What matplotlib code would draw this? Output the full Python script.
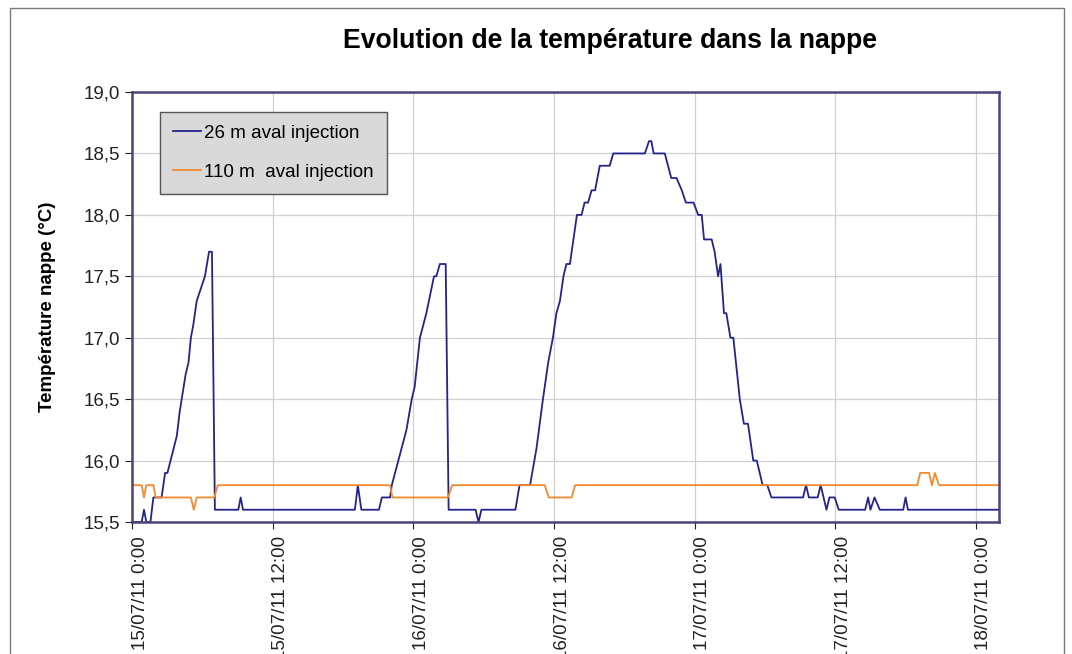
import numpy as np
import pandas as pd
import matplotlib
matplotlib.use("Agg")
import matplotlib.pyplot as plt
import matplotlib.dates as mdates
import matplotlib.transforms as mtransforms
from matplotlib.patches import Rectangle
from matplotlib.ticker import FuncFormatter, MultipleLocator

plt.rcParams['font.family'] = ['Liberation Sans', 'DejaVu Sans']

start = pd.Timestamp("2011-07-15 00:00")

# 26 m aval injection : (heures depuis le debut, temperature)
h26 = [0.0, 0.8, 1.0, 1.2, 1.55, 1.8, 2.5, 2.8, 3.0, 3.8, 4.05, 4.55, 4.8, 5.0, 5.2, 5.5,
       6.2, 6.55, 6.8, 7.05, 9.05, 9.25, 9.45, 19.0, 19.25, 19.55, 21.05, 21.3, 22.0, 22.15,
       23.4, 23.85, 24.1, 24.55, 25.1, 25.75, 25.95, 26.25, 26.75, 27.0, 29.3, 29.55, 29.8,
       32.7, 33.05, 33.95, 34.5, 35.05, 35.5, 35.9, 36.2, 36.5, 36.8, 37.05, 37.35, 37.65,
       37.95, 38.35, 38.6, 38.9, 39.2, 39.5, 39.9, 40.75, 41.05, 43.75, 44.1, 44.3, 44.5,
       45.45, 46.0, 46.45, 46.9, 47.25, 47.9, 48.3, 48.6, 48.8, 49.45, 49.7, 50.0, 50.2,
       50.5, 50.7, 51.05, 51.3, 51.85, 52.2, 52.55, 53.0, 53.3, 53.8, 54.2, 54.55, 57.25,
       57.5, 57.75, 58.5, 58.75, 59.25, 59.5, 59.95, 60.3, 62.55, 62.8, 63.0, 63.35, 63.8,
       65.8, 66.0, 66.2, 74.0]
t26 = [15.5, 15.5, 15.6, 15.5, 15.5, 15.7, 15.7, 15.9, 15.9, 16.2, 16.4, 16.7, 16.8, 17.0, 17.1, 17.3,
       17.5, 17.7, 17.7, 15.6, 15.6, 15.7, 15.6, 15.6, 15.8, 15.6, 15.6, 15.7, 15.7, 15.8,
       16.25, 16.5, 16.6, 17.0, 17.2, 17.5, 17.5, 17.6, 17.6, 15.6, 15.6, 15.5, 15.6,
       15.6, 15.8, 15.8, 16.1, 16.5, 16.8, 17.0, 17.2, 17.3, 17.5, 17.6, 17.6, 17.8,
       18.0, 18.0, 18.1, 18.1, 18.2, 18.2, 18.4, 18.4, 18.5, 18.5, 18.6, 18.6, 18.5,
       18.5, 18.3, 18.3, 18.2, 18.1, 18.1, 18.0, 18.0, 17.8, 17.8, 17.7, 17.5, 17.6,
       17.2, 17.2, 17.0, 17.0, 16.5, 16.3, 16.3, 16.0, 16.0, 15.8, 15.8, 15.7, 15.7,
       15.8, 15.7, 15.7, 15.8, 15.6, 15.7, 15.7, 15.6, 15.6, 15.7, 15.6, 15.7, 15.6,
       15.6, 15.7, 15.6, 15.6]

# 110 m aval injection
h110 = [0.0, 0.8, 1.0, 1.2, 1.8, 2.0, 5.0, 5.25, 5.5, 7.0, 7.3, 22.0, 22.2, 26.95, 27.3,
        35.2, 35.55, 37.5, 37.8, 67.0, 67.25, 68.0, 68.25, 68.5, 68.85, 74.0]
t110 = [15.8, 15.8, 15.7, 15.8, 15.8, 15.7, 15.7, 15.6, 15.7, 15.7, 15.8, 15.8, 15.7, 15.7, 15.8,
        15.8, 15.7, 15.7, 15.8, 15.8, 15.9, 15.9, 15.8, 15.9, 15.8, 15.8]

labels = ["26 m aval injection", "110 m  aval injection"]

x26 = start + pd.to_timedelta(h26, unit="h")
x110 = start + pd.to_timedelta(h110, unit="h")

fig = plt.figure(figsize=(10.72, 6.54), dpi=100)
ax = fig.add_axes([0.1234, 0.2018, 0.8088, 0.6575])

ax.plot(x26, t26, color="#24248C", lw=1.3, label=labels[0])
ax.plot(x110, t110, color="#F28A2E", lw=1.3, label=labels[1])

ax.set_ylim(15.5, 19.0)
ax.set_xlim(start, start + pd.Timedelta(hours=74))
ax.yaxis.set_major_locator(MultipleLocator(0.5))
ax.yaxis.set_major_formatter(FuncFormatter(lambda v, p: f"{v:.1f}".replace(".", ",")))

ax.xaxis.set_major_locator(mdates.HourLocator(byhour=[0, 12]))
def fmt_date(v, p):
    d = mdates.num2date(v)
    return f"{d:%d/%m/%y} {d.hour}:{d:%M}"
ax.xaxis.set_major_formatter(FuncFormatter(fmt_date))

ax.grid(True, color="#D0D0D0", lw=0.9)
ax.set_axisbelow(True)
for s in ax.spines.values():
    s.set_color("#4E4278")
    s.set_linewidth(1.8)
ax.tick_params(axis="both", labelsize=13.5, colors="#222222", length=5, width=0.8, direction="out")
ax.tick_params(axis="x", pad=5)
ax.tick_params(axis="y", pad=4)

# decaler les etiquettes de dates un peu a droite, comme dans Excel
shift = mtransforms.ScaledTranslation(8 / 100, 0, fig.dpi_scale_trans)
for lab in ax.get_xticklabels():
    lab.set_rotation(90)
    lab.set_ha("center")
    lab.set_va("top")
    lab.set_transform(lab.get_transform() + shift)

ax.set_ylabel("Température nappe (°C)", fontsize=13.5, fontweight="bold", labelpad=20)
fig.text(0.569, 0.938, "Evolution de la température dans la nappe", fontsize=19.2,
         fontweight="bold", ha="center", va="center")

leg = ax.legend(loc="upper left", bbox_to_anchor=(0.032, 0.954), borderaxespad=0,
                fontsize=13.5, frameon=True, fancybox=False, facecolor="#D9D9D9",
                edgecolor="#555555", framealpha=1, handlelength=1.5, handletextpad=0.15,
                labelspacing=1.15, borderpad=0.7)
leg.get_frame().set_linewidth(1.0)

# cadre du graphique
fig.add_artist(Rectangle((10 / 1072, -0.05), 1054 / 1072, 1.05 - 8 / 654,
                         transform=fig.transFigure, fill=False, ec="#7A7A7A", lw=1.0))

fig.savefig("out.png", dpi=100)
